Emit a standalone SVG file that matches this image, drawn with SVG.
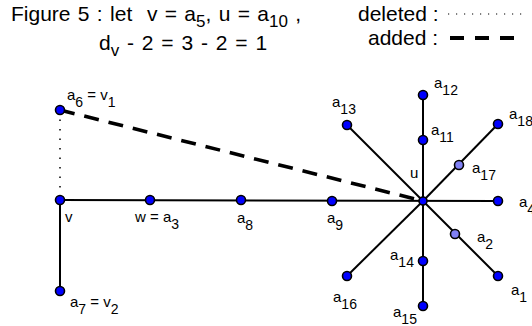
<svg xmlns="http://www.w3.org/2000/svg" width="532" height="326" viewBox="0 0 532 326">
<style>
text{font-family:"Liberation Sans",Arial,sans-serif;fill:#000;white-space:pre}
.t{font-size:21px}
.ts{font-size:17px}
.l{font-size:15px}
.s{font-size:14px}
.e{stroke:#000;stroke-width:2;fill:none}
.n{fill:#0000ff;stroke:#000;stroke-width:1.6}
.m{fill:#8080f4;stroke:#000;stroke-width:1.6}
</style>
<rect width="532" height="326" fill="#fff"/>
<g id="title">
<text class="t" x="11" y="21" word-spacing="1.5" xml:space="preserve">Figure 5 : let  v = a<tspan class="ts" dy="6">5</tspan><tspan dy="-6">, u = a</tspan><tspan class="ts" dy="6">10</tspan><tspan dy="-6"> ,</tspan></text>
<text class="t" x="99" y="50" word-spacing="2" xml:space="preserve">d<tspan class="ts" dy="6">v</tspan><tspan dy="-6"> - 2 = 3 - 2 = 1</tspan></text>
</g>
<g id="legend">
<text class="t" x="358" y="21">deleted :</text>
<line x1="448" y1="14" x2="527" y2="14" stroke="#000" stroke-width="1.2" stroke-dasharray="1.2 6.8"/>
<text class="t" x="368" y="45">added :</text>
<line x1="450" y1="38" x2="515" y2="38" stroke="#000" stroke-width="4" stroke-dasharray="14 11"/>
</g>
<g id="connectors">
<line class="e" x1="60" y1="200" x2="498" y2="201"/>
<line class="e" x1="60" y1="200" x2="60" y2="291"/>
<line class="e" x1="423" y1="95" x2="423" y2="306"/>
<line class="e" x1="347" y1="125" x2="423" y2="201"/>
<line class="e" x1="498" y1="124" x2="423" y2="201"/>
<line class="e" x1="347" y1="276" x2="423" y2="201"/>
<line class="e" x1="498" y1="276" x2="423" y2="201"/>
<line x1="60" y1="110" x2="60" y2="200" stroke="#000" stroke-width="1.5" stroke-dasharray="1.5 8"/>
<line x1="60" y1="110" x2="423" y2="201" stroke="#000" stroke-width="3.6" stroke-dasharray="15 10"/>
</g>
<g id="a6"><circle class="n" cx="60" cy="110" r="4.5"/><text class="l" x="67" y="100">a<tspan class="s" dy="7">6</tspan><tspan dy="-7"> = v</tspan><tspan class="s" dy="7">1</tspan></text></g>
<g id="a5"><circle class="n" cx="60" cy="200" r="4.5"/><text class="l" x="65" y="222">v</text></g>
<g id="a3"><circle class="n" cx="150" cy="200" r="4.5"/><text class="l" x="135" y="222">w = a<tspan class="s" dy="7">3</tspan></text></g>
<g id="a8"><circle class="n" cx="241" cy="200" r="4.5"/><text class="l" x="237" y="223">a<tspan class="s" dy="7">8</tspan></text></g>
<g id="a9"><circle class="n" cx="332" cy="201" r="4.5"/><text class="l" x="327" y="223">a<tspan class="s" dy="7">9</tspan></text></g>
<g id="a10"><circle class="n" cx="423" cy="201" r="4"/><text class="l" x="410" y="178">u</text></g>
<g id="a4"><circle class="n" cx="498" cy="201" r="4.5"/><text class="l" x="519" y="207">a<tspan class="s" dy="7">4</tspan></text></g>
<g id="a7"><circle class="n" cx="60" cy="291" r="4.5"/><text class="l" x="70" y="307">a<tspan class="s" dy="7">7</tspan><tspan dy="-7"> = v</tspan><tspan class="s" dy="7">2</tspan></text></g>
<g id="a12"><circle class="n" cx="423" cy="95" r="4.5"/><text class="l" x="434" y="88">a<tspan class="s" dy="7">12</tspan></text></g>
<g id="a11"><circle class="n" cx="423" cy="140" r="4.5"/><text class="l" x="431" y="135">a<tspan class="s" dy="7">11</tspan></text></g>
<g id="a13"><circle class="n" cx="347" cy="125" r="4.5"/><text class="l" x="332" y="107">a<tspan class="s" dy="7">13</tspan></text></g>
<g id="a18"><circle class="n" cx="498" cy="124" r="4.5"/><text class="l" x="509" y="119">a<tspan class="s" dy="7">18</tspan></text></g>
<g id="a17"><circle class="m" cx="459" cy="165" r="4.5"/><text class="l" x="472" y="173">a<tspan class="s" dy="7">17</tspan></text></g>
<g id="a2"><circle class="m" cx="455" cy="234" r="4.5"/><text class="l" x="477" y="242">a<tspan class="s" dy="7">2</tspan></text></g>
<g id="a1"><circle class="n" cx="498" cy="276" r="4.5"/><text class="l" x="511" y="295">a<tspan class="s" dy="7">1</tspan></text></g>
<g id="a14"><circle class="n" cx="423" cy="261" r="4.5"/><text class="l" x="390" y="260">a<tspan class="s" dy="7">14</tspan></text></g>
<g id="a16"><circle class="n" cx="347" cy="276" r="4.5"/><text class="l" x="333" y="302">a<tspan class="s" dy="7">16</tspan></text></g>
<g id="a15"><circle class="n" cx="423" cy="306" r="4.5"/><text class="l" x="393" y="317">a<tspan class="s" dy="7">15</tspan></text></g>
</svg>
